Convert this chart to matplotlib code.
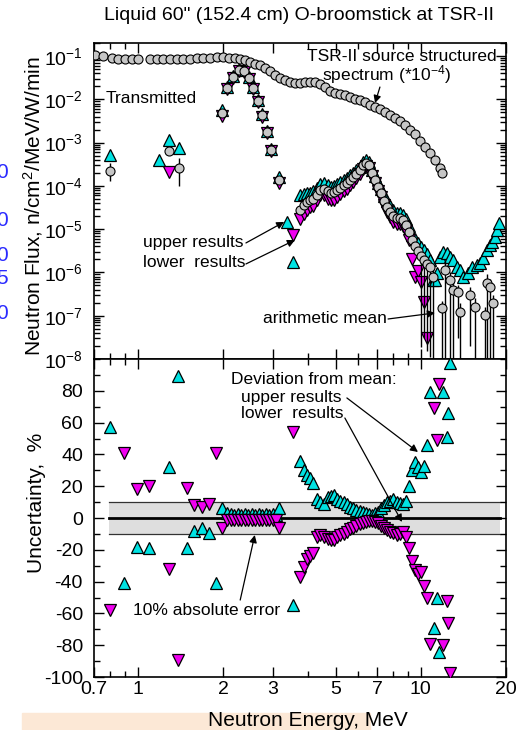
import numpy as np
import matplotlib
matplotlib.use('Agg')
from matplotlib import pyplot as plt
from matplotlib.ticker import FixedLocator, NullFormatter, LogLocator, MultipleLocator
from matplotlib.patches import Rectangle

plt.rcParams['font.family'] = ['Liberation Sans', 'DejaVu Sans']
plt.rcParams['axes.unicode_minus'] = False
plt.rcParams['mathtext.fontset'] = 'custom'
plt.rcParams['mathtext.rm'] = 'Liberation Sans'

nan = np.nan

# TSR-II source structured spectrum (*1e-4)
source_energy = [0.706, 0.753, 0.811, 0.851, 0.901, 0.954, 1.00, 1.10, 1.17, 1.23,
                 1.30, 1.38, 1.44, 1.53, 1.62, 1.70, 1.80, 1.90, 2.00, 2.10,
                 2.20, 2.30, 2.39, 2.49, 2.59, 2.70, 2.81, 2.93, 3.05, 3.18,
                 3.31, 3.45, 3.59, 3.74, 3.90, 4.06, 4.23, 4.40, 4.59, 4.78,
                 4.97, 5.18, 5.39, 5.62, 5.85, 6.10, 6.35, 6.61, 6.89, 7.17,
                 7.47, 7.78, 8.10, 8.44, 8.79, 9.16, 9.54, 9.93, 10.34, 10.78,
                 11.22, 11.69, 11.90]
source_flux = [0.105, 0.100, 0.088, 0.087, 0.087, 0.087, 0.087, 0.087, 0.087, 0.087,
               0.086, 0.086, 0.086, 0.087, 0.088, 0.089, 0.091, 0.093, 0.093, 0.092,
               0.090, 0.085, 0.081, 0.073, 0.067, 0.062, 0.053, 0.045, 0.036, 0.031,
               0.028, 0.025, 0.024, 0.024, 0.0245, 0.025, 0.025, 0.0226, 0.0192, 0.0155,
               0.0140, 0.0133, 0.0126, 0.0113, 0.0102, 0.0096, 0.0087, 0.0074, 0.0066, 0.0060,
               0.0051, 0.0043, 0.0037, 0.0032, 0.0026, 0.0020, 0.0016, 0.0011, 7.9e-4, 5.8e-4,
               4.0e-4, 2.6e-4, 2.0e-4]

# transmitted flux: upper results, arithmetic mean, lower results
trans_energy = [0.80, 1.19, 1.29, 1.40, 1.98, 2.07, 2.17, 2.28, 2.37, 2.47,
                2.55, 2.66, 2.75, 2.86, 2.96, 3.15, 3.36, 3.53,
                3.74, 3.87, 3.96, 4.06, 4.16, 4.30, 4.40, 4.55, 4.70, 4.81,
                4.93, 5.06, 5.18, 5.35, 5.48, 5.62, 5.76, 5.90, 6.10, 6.25,
                6.40, 6.56, 6.72, 6.89, 7.06, 7.23, 7.41, 7.59, 7.78, 7.97,
                8.24, 8.44, 8.65, 8.86, 9.08, 9.31, 9.54, 9.77, 10.01, 10.26,
                10.51, 10.77, 11.04]
trans_upper = [5.2e-4, 4.0e-4, 1.15e-3, 7.5e-4, 5.6e-3, 0.0195, 0.035, 0.050, 0.047, 0.033,
               0.0195, 0.0097, 0.0046, 0.00188, 7.2e-4, 1.6e-4, 1.5e-5, 1.7e-6,
               6.0e-5, 6.5e-5, 7.0e-5, 7.0e-5, 7.5e-5, 9.0e-5, 1.1e-4, 1.15e-4, 1.05e-4, 9.5e-5,
               9.8e-5, 1.08e-4, 1.2e-4, 1.4e-4, 1.55e-4, 1.75e-4, 2.0e-4, 2.3e-4, 2.8e-4, 3.6e-4,
               4.0e-4, 3.5e-4, 2.35e-4, 1.65e-4, 1.15e-4, 8.6e-5, 5.8e-5, 4.4e-5, 3.4e-5, 2.8e-5,
               2.4e-5, 2.4e-5, 2.1e-5, 1.7e-5, 1.2e-5, 7.5e-6, 6.0e-6, 4.8e-6, 3.9e-6, 3.3e-6,
               2.6e-6, 1.9e-6, 6.7e-7]
trans_mean = [2.2e-4, nan, 6.4e-4, 2.6e-4, 4.8e-3, 0.0182, 0.0327, 0.0475, 0.045, 0.031,
              0.0182, 0.0091, 0.0043, 0.00176, 6.8e-4, 1.37e-4, nan, nan,
              2.8e-5, 3.6e-5, 4.3e-5, 4.7e-5, 5.0e-5, 6.2e-5, 8.0e-5, 8.5e-5, 7.6e-5, 6.9e-5,
              7.2e-5, 8.0e-5, 8.9e-5, 1.05e-4, 1.17e-4, 1.37e-4, 1.61e-4, 1.88e-4, 2.33e-4, 3.0e-4,
              3.4e-4, 3.0e-4, 2.0e-4, 1.37e-4, 9.4e-5, 6.9e-5, 4.5e-5, 3.3e-5, 2.5e-5, 2.0e-5,
              1.8e-5, 1.8e-5, 1.6e-5, 1.25e-5, 8.6e-6, 5.6e-6, 4.1e-6, 3.1e-6, 2.4e-6, 1.9e-6,
              1.6e-6, 1.34e-6, 7.9e-7]
trans_lower = [nan, nan, 2.1e-4, nan, 4.2e-3, 0.0170, 0.031, 0.045, 0.043, 0.029,
               0.017, 0.0085, 0.0040, 0.00165, 6.3e-4, 1.18e-4, nan, 7.4e-6,
               1.7e-5, 2.2e-5, 2.8e-5, 3.2e-5, 3.5e-5, 4.6e-5, 6.2e-5, 6.0e-5, 5.0e-5, 4.6e-5,
               4.8e-5, 5.6e-5, 6.4e-5, 7.6e-5, 8.6e-5, 1.05e-4, 1.25e-4, 1.5e-4, 1.9e-4, 2.5e-4,
               2.9e-4, 2.55e-4, 1.7e-4, 1.15e-4, 7.8e-5, 5.6e-5, 3.6e-5, 2.5e-5, 1.9e-5, 1.5e-5,
               1.3e-5, 1.35e-5, 1.2e-5, 9.0e-6, 5.5e-6, 2.0e-6, 8.0e-7, 1.1e-6, 6.0e-7, 2.1e-7,
               3.1e-8, nan, nan]

# high energy tail
tail_upper_energy = [11.22, 11.40, 11.69, 11.98, 12.37, 12.68, 12.99, 13.42, 13.75, 14.09,
                     14.68, 15.16, 15.79, 16.18, 16.58, 17.13, 17.55, 17.85, 18.28, 18.58, 18.89]
tail_upper = [6.7e-7, 9.7e-7, 2.3e-6, 3.0e-6, 2.8e-6, 2.3e-6, 1.95e-6, 1.34e-6, 1.14e-6, 7.9e-7,
              9.7e-7, 1.34e-6, 1.5e-6, 1.66e-6, 2.16e-6, 3.3e-6, 4.3e-6, 5.1e-6, 6.6e-6, 9.6e-6, 1.39e-5]
tail_mean_energy = [11.88, 12.17, 12.68, 12.99, 13.53, 13.75, 14.92, 15.54, 16.85, 17.13, 17.55, 17.99]
tail_mean = [1.5e-7, 1.14e-6, 6.7e-7, 4.0e-7, 3.6e-7, 1.2e-7, 3.0e-7, 1.6e-7, 1.04e-7, 5.7e-7, 4.6e-7, 2.0e-7]

# error bars of the mean (low / high bounds)
bar_energy = [0.80, 1.29, 1.40, 10.01, 10.26, 10.51, 10.77, 11.04, 11.88, 12.17,
              12.68, 12.99, 13.53, 13.75, 14.92, 15.54, 16.85, 17.13, 17.55, 17.99]
bar_low = [1.3e-4, 5.3e-4, 1.0e-4, 1.9e-8, 3.0e-8, 1.5e-8, 1.1e-8, 1e-9, 1e-9, 1e-9,
           1e-9, 1e-9, 3e-8, 1e-9, 2e-8, 1e-9, 1e-9, 1e-9, 1e-9, 1e-9]
bar_high = [3.3e-4, 7.6e-4, 4.4e-4, 3.2e-6, 2.6e-6, 2.2e-6, 1.9e-6, 1.2e-6, 2.2e-7, 1.8e-6,
            1.0e-6, 6.0e-7, 5.0e-7, 2.0e-7, 4.5e-7, 2.5e-7, 1.6e-7, 9.0e-7, 7.0e-7, 3.0e-7]

# deviation from mean, %
dev_energy = [0.797, 0.894, 0.993, 1.095, 1.289, 1.387, 1.492, 1.579, 1.685, 1.784,
              1.889, 1.983, 2.066, 2.134, 2.187, 2.259, 2.314, 2.391, 2.450, 2.531,
              2.595, 2.681, 2.746, 2.837, 2.907, 3.003, 3.077, 3.15, 3.535,
              3.74, 3.87, 3.96, 4.06, 4.16, 4.30, 4.40, 4.55, 4.70, 4.81,
              4.93, 5.06, 5.18, 5.35, 5.48, 5.62, 5.76, 5.90, 6.10, 6.25,
              6.40, 6.56, 6.72, 6.89, 7.06, 7.23, 7.41, 7.59, 7.78, 7.97,
              8.24, 8.44, 8.65, 8.86, 9.08, 9.31, 9.54, 9.77, 10.01, 10.26,
              10.51, 10.77, 11.13, 11.40, 11.59, 11.98, 12.37, 12.50, 12.68]
dev_upper = [57, -41, -18, -19, 32, 89, -19, -8, -6.5, -9.5,
             -41, 6, 3, 2.5, 2, 2.5, 2, 2.5, 2, 2.5,
             2, 2.5, 2, 2.5, 2, 2.5, 2, 6, -55,
             36, 30, 27, 25, 22, 12, 10, 9, 13, 14,
             14.5, 12, 11, 10, 9, 7, 6, 5, 4.5, 4,
             3, 2.5, 2, 3, 4, 6, 8, 10, 11, 12,
             10, 9.5, 9, 11, 20, 30, 35, 32, 29, 33,
             46, 79, -69, -50, -84, 79, 51, 66, 97.5]
dev_lower = [-58, 41, 18, 20, -32, -89, 19, 8, 7, 9,
             41, -6, -1, -1.5, -1, -1.5, -1, -1.5, -1, -1.5,
             -1, -1.5, -1, -1.5, -1, -1.5, -1, -6, 54,
             -37, -31, -26, -24, -22, -12, -11, -12, -13, -14,
             -14, -12, -11, -10, -9, -7, -6, -5, -4, -3,
             -2.5, -2, -2, -2.5, -3, -5, -6, -7.5, -8.5, -9.5,
             -11, -10, -9, -12, -19, -27, -33, -35, -34, -43,
             -50, -79, 69, 49, 84, -80, -52, -66, -97.5]

band_energy = [0.79, 19.0]
band_limit = 10

x_major = [0.7, 1, 2, 3, 5, 7, 10, 20]
x_minor = [0.8, 0.9, 4, 6, 8, 9]
x_labels = ['0.7', '1', '2', '3', '5', '7', '10', '20']

CYAN = '#00e2e2'
MAGENTA = '#f000f0'
GRAY = '#c6c6c6'

up_style = dict(ls='none', marker='^', ms=8, mfc=CYAN, mec='black', mew=0.9)
lo_style = dict(ls='none', marker='v', ms=8, mfc=MAGENTA, mec='black', mew=0.9)
circ_style = dict(ls='none', marker='o', ms=6.5, mfc=GRAY, mec='black', mew=0.8)


def style_axes(ax):
    ax.set_xscale('log')
    ax.set_xlim(0.7, 20)
    ax.xaxis.set_major_locator(FixedLocator(x_major))
    ax.xaxis.set_minor_locator(FixedLocator(x_minor))
    ax.xaxis.set_minor_formatter(NullFormatter())
    ax.tick_params(which='both', direction='in', top=True, right=True, width=1,
                   labelsize=14)
    ax.tick_params(which='major', length=7)
    ax.tick_params(which='minor', length=4)
    ax.tick_params(axis='y', pad=8)
    ax.tick_params(axis='x', pad=3)
    for sp in ax.spines.values():
        sp.set_linewidth(1.2)


def arrow(ax, start, tip):
    ax.annotate('', xy=tip, xytext=start,
                arrowprops=dict(arrowstyle='-|>', color='black', lw=0.9,
                                mutation_scale=11, shrinkA=0, shrinkB=0))


fig = plt.figure(figsize=(5.18, 7.30), dpi=100)
fig.patches.append(Rectangle((22 / 518, 0), 348 / 518, 17 / 730, transform=fig.transFigure,
                             color='#fce8d6', zorder=0))
ax1 = fig.add_axes([0.18147, 0.50822, 0.79537, 0.43288])
ax2 = fig.add_axes([0.18147, 0.07260, 0.79537, 0.43562])

# top panel
style_axes(ax1)
ax1.set_yscale('log')
ax1.set_ylim(1e-8, 0.2)
ax1.yaxis.set_major_locator(LogLocator(base=10, numticks=15))
ax1.yaxis.set_minor_locator(LogLocator(base=10, subs=np.arange(2, 10), numticks=15))
ax1.yaxis.set_minor_formatter(NullFormatter())
ax1.xaxis.set_major_formatter(NullFormatter())

ax1.plot(trans_energy, trans_upper, zorder=2, **up_style)
ax1.plot(tail_upper_energy, tail_upper, zorder=2, **up_style)
ax1.plot(trans_energy, trans_lower, zorder=2.5, **lo_style)
ax1.vlines(bar_energy, bar_low, bar_high, color='black', lw=1, zorder=3)
ax1.plot(source_energy, source_flux, zorder=4, **circ_style)
ax1.plot(trans_energy, trans_mean, zorder=4, **circ_style)
ax1.plot(tail_mean_energy, tail_mean, zorder=4, **circ_style)

fs = 12.5
ax1.text(0.772, 0.0107, 'Transmitted', fontsize=fs, va='center')
ax1.text(3.96, 0.095, 'TSR-II source structured', fontsize=fs, va='center')
ax1.text(4.475, 0.037, r'spectrum (*10$\mathdefault{^{-4}}$)', fontsize=fs, va='center')
arrow(ax1, (7.17, 0.0192), (6.89, 0.0082))
ax1.text(1.043, 4.8e-6, 'upper results', fontsize=fs, va='center')
ax1.text(1.043, 1.66e-6, 'lower  results', fontsize=fs, va='center')
arrow(ax1, (2.41, 4.8e-6), (3.29, 1.47e-5))
arrow(ax1, (2.41, 1.57e-6), (3.59, 5.6e-6))
ax1.text(2.77, 8.4e-8, 'arithmetic mean', fontsize=fs, va='center')
arrow(ax1, (7.66, 8.4e-8), (11.22, 1.16e-7))

# bottom panel
style_axes(ax2)
ax2.set_ylim(-100, 100)
ax2.set_yticks(np.arange(-100, 81, 20))
ax2.yaxis.set_minor_locator(MultipleLocator(10))
ax2.set_xticklabels(x_labels)

ax2.fill_between(band_energy, -band_limit, band_limit, color='#dedede', lw=0, zorder=1)
ax2.plot(band_energy, [band_limit, band_limit], color='#333333', lw=0.9, zorder=1.2)
ax2.plot(band_energy, [-band_limit, -band_limit], color='#333333', lw=0.9, zorder=1.2)
ax2.plot(band_energy, [0, 0], color='black', lw=2, zorder=1.3)
ax2.plot(dev_energy, dev_upper, zorder=3, **up_style)
ax2.plot(dev_energy, dev_lower, zorder=3.5, **lo_style)

ax2.text(2.13, 86.8, 'Deviation from mean:', fontsize=fs, va='center')
ax2.text(2.31, 76.1, 'upper results', fontsize=fs, va='center')
ax2.text(2.31, 66.0, 'lower  results', fontsize=fs, va='center')
arrow(ax2, (5.48, 75.5), (9.77, 41.5))
arrow(ax2, (5.39, 62.9), (8.58, -2.5))
ax2.text(0.962, -57.9, '10% absolute error', fontsize=fs, va='center')
arrow(ax2, (2.30, -51.6), (2.59, -10.7))

# labels
fig.text(299 / 518, 1 - 15 / 730, 'Liquid 60" (152.4 cm) O-broomstick at TSR-II',
         ha='center', va='center', fontsize=14)
fig.text(33.5 / 518, 1 - 206 / 730, r'Neutron Flux, n/cm$\mathdefault{^2}$/MeV/W/min',
         rotation=90, ha='center', va='center', fontsize=15)
fig.text(36.5 / 518, 1 - 503 / 730, 'Uncertainty,  %',
         rotation=90, ha='center', va='center', fontsize=15)
fig.text(308 / 518, 1 - 720 / 730, 'Neutron Energy, MeV',
         ha='center', va='center', fontsize=15)

# cut-off labels at the left edge
for yy, ch in [(172, '0'), (220, '0'), (255, '0'), (278, '5'), (313, '0')]:
    fig.text(-4 / 518, 1 - yy / 730, ch, color='#2a2aff', fontsize=15, va='center')

fig.savefig('out.png', dpi=100)
